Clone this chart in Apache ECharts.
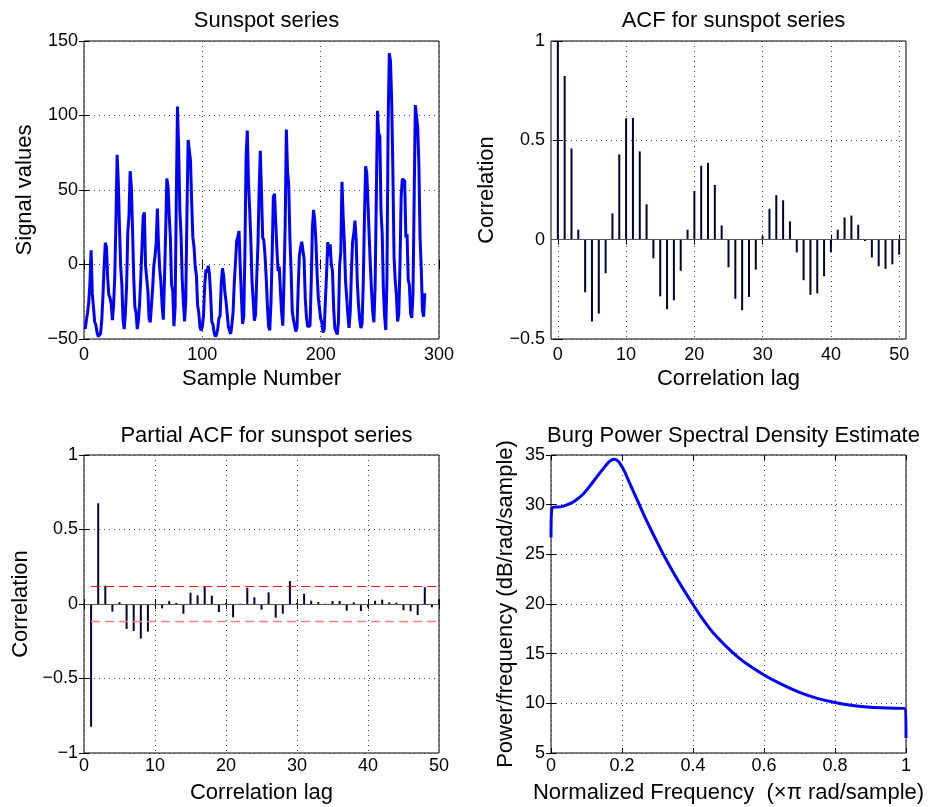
<!DOCTYPE html>
<html>
<head>
<meta charset="utf-8">
<script src="https://cdn.jsdelivr.net/npm/echarts@6/dist/echarts.min.js"></script>
<style>
html, body { margin: 0; padding: 0; background: #fff; }
#main { width: 930px; height: 807px; }
</style>
</head>
<body>
<div id="main"></div>
<script>
// yearly sunspot series with its mean removed (samples 1..288)
var sunspot = [
  -43.4, -37.4, -32.4, -25.4, -12.4, 9.6, -19.4, -28.4, -38.4, -40.4,
  -45.4, -48.4, -48.4, -46.4, -37.4, -21.4, -1.4, 14.6, 11.6, -9.4,
  -20.4, -22.4, -26.4, -37.4, -27.4, -8.4, 29.6, 73.6, 54.6, 24.6,
  -1.4, -13.4, -37.4, -43.4, -32.4, -14.4, 21.6, 32.6, 62.6, 52.6,
  24.6, -8.4, -28.4, -32.4, -43.4, -37.4, -26.4, -8.4, 11.6, 32.5,
  35.0, -0.7, -0.6, -17.7, -36.2, -38.8, -38.2, -16.0, -0.8, 5.6,
  14.5, 37.5, 12.8, -3.3, -12.0, -27.5, -37.0, -10.6, 21.4, 57.7,
  52.4, 33.2, 18.1, -13.6, -17.8, -41.4, -28.6, 44.1, 106.0, 77.5,
  36.4, 19.7, -9.9, -25.6, -38.2, -24.3, 34.5, 83.6, 82.5, 69.7,
  41.5, 18.2, 11.6, -1.5, -7.4, -27.1, -32.4, -42.0, -44.3, -41.6,
  -33.9, -14.4, -3.4, -5.3, -0.9, -6.2, -20.3, -38.3, -40.3, -45.9,
  -48.4, -47.0, -43.4, -36.2, -34.5, -13.0, -2.6, -7.3, -18.3, -24.5,
  -32.8, -41.8, -44.4, -46.6, -39.9, -31.8, -12.1, 1.2, 15.8, 18.6,
  22.5, -0.6, -20.9, -39.9, -35.2, 8.5, 73.1, 89.9, 54.8, 37.3,
  16.2, -11.7, -24.2, -37.7, -33.4, -8.3, 13.1, 50.1, 76.3, 47.9,
  18.2, 16.1, 5.7, -9.4, -27.8, -41.7, -44.1, -25.7, 6.4, 45.4,
  47.4, 28.8, 10.7, -4.4, -1.4, -17.9, -32.1, -41.1, -10.8, 25.6,
  90.6, 62.8, 53.2, 17.8, -3.7, -31.4, -37.1, -36.0, -45.0, -42.4,
  -16.1, 5.9, 11.3, 15.3, 15.1, 3.8, -23.0, -35.3, -41.6, -42.1,
  -41.3, -12.8, 24.6, 36.7, 29.6, 15.6, -6.6, -22.2, -21.7, -36.3,
  -38.9, -45.7, -43.4, -24.0, -6.4, 15.1, 5.4, 13.6, 0.1, -4.5,
  -29.8, -42.7, -44.8, -47.0, -38.8, -1.0, 8.7, 55.5, 32.2, 15.2,
  -10.8, -22.3, -34.2, -42.6, -31.7, -4.1, 15.5, 20.6, 29.4, 16.5,
  -12.7, -27.2, -37.3, -42.7, -39.7, -12.3, 31.3, 66.0, 61.2, 40.4,
  19.4, -0.9, -17.8, -32.1, -38.8, -15.2, 44.2, 103.2, 87.9, 86.3,
  35.5, 21.0, -16.9, -34.5, -44.0, -10.4, 93.3, 141.8, 136.4, 110.6,
  63.9, 5.5, -10.9, -20.5, -38.2, -33.3, -1.4, 45.4, 57.5, 57.1,
  56.1, 18.2, 20.5, -10.4, -13.9, -32.9, -35.8, -20.9, 44.1, 107.0,
  106.3, 92.1, 67.5, 18.2, -2.5, -30.5, -35.0, -19.2
];

// autocorrelation, lags 0..50
var acfValues = [
  1, 0.824, 0.459, 0.05, -0.265, -0.412, -0.372, -0.169, 0.132, 0.429,
  0.611, 0.613, 0.444, 0.178, -0.094, -0.285, -0.350, -0.305, -0.157, 0.05,
  0.245, 0.372, 0.387, 0.275, 0.072, -0.139, -0.298, -0.355, -0.288, -0.151,
  0.017, 0.156, 0.224, 0.198, 0.092, -0.064, -0.204, -0.278, -0.270, -0.184,
  -0.064, 0.05, 0.112, 0.121, 0.075, -0.007, -0.089, -0.134, -0.147, -0.124,
  -0.075
];

// partial autocorrelation, lags 1..50
var pacfValues = [
  -0.824, 0.676, 0.123, -0.051, 0.013, -0.167, -0.181, -0.232, -0.185, -0.01,
  -0.029, 0.02, 0.007, -0.065, 0.076, 0.058, 0.12, 0.056, -0.054, 0.007,
  -0.089, 0.002, 0.109, 0.045, -0.038, 0.078, -0.092, -0.065, 0.154, 0.007,
  0.069, 0.022, 0.013, 0.002, 0.02, 0.02, -0.045, 0.011, -0.047, -0.022,
  0.022, 0.029, 0.011, 0.009, -0.042, -0.049, -0.074, 0.112, -0.022, 0.029
];
var pacfBound = [0.117, -0.117];

// Burg PSD estimate
var psdFreq = [0, 0.003, 0.03, 0.05, 0.07, 0.09, 0.11, 0.13, 0.15, 0.165,
  0.178, 0.19, 0.205, 0.22, 0.24, 0.26, 0.28, 0.30, 0.32, 0.345,
  0.37, 0.40, 0.425, 0.45, 0.475, 0.50, 0.525, 0.55, 0.60, 0.65,
  0.70, 0.75, 0.80, 0.85, 0.90, 0.95, 0.997, 1.0];
var psdPower = [26.7, 29.7, 29.8, 30.05, 30.45, 31.05, 31.9, 32.85, 33.75, 34.35,
  34.56, 34.35, 33.5, 32.3, 30.7, 29.1, 27.6, 26.15, 24.75, 23.15,
  21.65, 19.95, 18.6, 17.4, 16.4, 15.5, 14.7, 14.0, 12.85, 11.9,
  11.1, 10.5, 10.08, 9.78, 9.6, 9.52, 9.48, 6.5];

var titles = ['Sunspot series', 'ACF for sunspot series',
  'Partial ACF for sunspot series', 'Burg Power Spectral Density Estimate'];
var xNames = ['Sample Number', 'Correlation lag', 'Correlation lag',
  'Normalized Frequency  (\u00d7\u03c0 rad/sample)'];
var yNames = ['Signal values', 'Correlation', 'Correlation', 'Power/frequency (dB/rad/sample)'];
var lagTicks = [0, 10, 20, 30, 40, 50];

var font = '"Liberation Sans", Arial, Helvetica, sans-serif';

var grids = [
  {left: 84, top: 41, width: 355, height: 298},
  {left: 551, top: 41, width: 355, height: 298},
  {left: 84, top: 455, width: 355, height: 298},
  {left: 551, top: 455, width: 355, height: 298}
];
// [min, max, interval, customTicks]
var xRanges = [[0, 300, 100], [-1, 51, null, lagTicks], [0, 50, 10], [0, 1, 0.2]];
var yRanges = [[-50, 150, 50], [-0.5, 1, 0.5], [-1, 1, 0.5], [5, 35, 5]];
var xNameGap = [29, 29, 29, 29];
var yNameGap = [48, 53, 52, 34];
var xLabelMargin = [7, 7, 4, 4];

function fmt(v) {
  return String(+v.toFixed(2)).replace('-', '\u2212');
}

function makeAxis(g, pos, r, name, gap, margin) {
  var main = pos === 'bottom' || pos === 'left';
  var a = {
    type: 'value',
    gridIndex: g,
    position: pos,
    min: r[0],
    max: r[1],
    axisLine: {show: false},
    axisTick: {show: true, inside: true, length: 5, lineStyle: {color: '#000'}},
    axisLabel: {show: main, color: '#000', fontSize: 18, fontFamily: font, margin: margin, formatter: fmt},
    splitLine: {show: main, lineStyle: {color: '#444', type: [1, 4], width: 1}}
  };
  if (r[2]) a.interval = r[2];
  if (r[3]) {
    a.axisTick.customValues = r[3];
    a.axisLabel.customValues = r[3];
  }
  if (main) {
    a.name = name;
    a.nameLocation = 'middle';
    a.nameGap = gap;
    a.nameTextStyle = {color: '#000', fontSize: 22, fontFamily: font};
  }
  return a;
}

var xAxes = [], yAxes = [], titleList = [];
for (var g = 0; g < 4; g++) {
  grids[g].show = true;
  grids[g].borderColor = '#000';
  grids[g].borderWidth = 1;
  grids[g].backgroundColor = '#fff';
  xAxes.push(makeAxis(g, 'bottom', xRanges[g], xNames[g], xNameGap[g], xLabelMargin[g]));
  xAxes.push(makeAxis(g, 'top', xRanges[g]));
  yAxes.push(makeAxis(g, 'left', yRanges[g], yNames[g], yNameGap[g], 6));
  yAxes.push(makeAxis(g, 'right', yRanges[g]));
  titleList.push({
    text: titles[g],
    left: grids[g].left + grids[g].width / 2,
    top: g < 2 ? 5 : 420,
    textAlign: 'center',
    textStyle: {fontSize: 22, fontWeight: 'normal', color: '#000', fontFamily: font}
  });
}

var zeroLine = {
  symbol: 'none',
  silent: true,
  label: {show: false},
  lineStyle: {color: '#555', type: 'solid', width: 1},
  data: [{yAxis: 0}]
};

var option = {
  backgroundColor: '#fff',
  animation: false,
  title: titleList,
  grid: grids,
  xAxis: xAxes,
  yAxis: yAxes,
  series: [
    {
      type: 'line',
      xAxisIndex: 0, yAxisIndex: 0,
      showSymbol: false,
      lineStyle: {color: '#0000ff', width: 3},
      data: sunspot.map(function (v, i) { return [i + 1, v]; })
    },
    {
      type: 'bar',
      xAxisIndex: 2, yAxisIndex: 2,
      barWidth: 2,
      itemStyle: {color: '#000033'},
      markLine: zeroLine,
      data: acfValues.map(function (v, i) { return [i, v]; })
    },
    {
      type: 'bar',
      xAxisIndex: 4, yAxisIndex: 4,
      barWidth: 2,
      itemStyle: {color: '#000033'},
      markLine: zeroLine,
      data: pacfValues.map(function (v, i) { return [i + 1, v]; })
    },
    {
      type: 'line',
      xAxisIndex: 4, yAxisIndex: 4,
      showSymbol: false,
      lineStyle: {color: '#ff0000', width: 1, type: [9, 5]},
      data: [[1, pacfBound[0]], [50, pacfBound[0]]]
    },
    {
      type: 'line',
      xAxisIndex: 4, yAxisIndex: 4,
      showSymbol: false,
      lineStyle: {color: '#ff8080', width: 1.6, type: [9, 5]},
      data: [[1, pacfBound[1]], [50, pacfBound[1]]]
    },
    {
      type: 'line',
      xAxisIndex: 6, yAxisIndex: 6,
      showSymbol: false,
      smooth: 0.3,
      lineStyle: {color: '#0000ff', width: 3},
      data: psdFreq.map(function (f, i) { return [f, psdPower[i]]; })
    }
  ]
};

var chart = echarts.init(document.getElementById('main'));
chart.setOption(option);
</script>
</body>
</html>
